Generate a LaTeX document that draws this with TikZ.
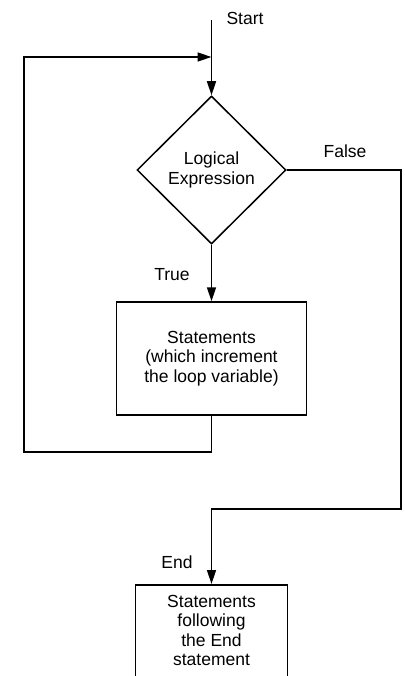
\documentclass[tikz,border=0pt]{standalone}
\usepackage{fontspec}
\setmainfont{Liberation Sans}
\usetikzlibrary{shapes.geometric,arrows.meta}
\tikzset{
  line/.style={line width=1.5pt},
  arr/.style={line, -{Triangle[length=14pt,width=9pt]}},
  txt/.style={font=\fontsize{17.5}{19.5}\selectfont, align=center, inner sep=0pt},
  decision/.style={diamond, draw, line, aspect=1, minimum width=149pt, minimum height=148pt, inner sep=0pt, txt},
  process/.style={rectangle, draw, line, inner sep=0pt, txt},
  lbl/.style={txt}
}
\begin{document}
\begin{tikzpicture}[x=1pt,y=-1pt]
  \useasboundingbox (0,0) rectangle (404,676);
  \clip (0,0) rectangle (404,676);

  % decision and statement blocks
  \node[decision] (dec) at (211.5,170) {Logical\\Expression};
  \node[process, minimum width=190pt, minimum height=113pt] (body) at (211.5,358.5)
    {Statements\\(which increment\\the loop variable)};
  \node[process, minimum width=152pt, minimum height=140pt, anchor=north] (after) at (211.5,584)
    {\\[-19.5pt]Statements\\following\\the End\\statement\\[17pt]\mbox{}};

  % branch labels
  \node[lbl] (lstart) at (245,18) {Start};
  \node[lbl] (lfalse) at (345,151) {False};
  \node[lbl] (ltrue) at (172,275) {True};
  \node[lbl] (lend) at (177,562) {End};

  % routing points
  \coordinate (start) at (211.5,20);
  \coordinate (join) at (211.5,57);
  \coordinate (loopL) at (24,452);
  \coordinate (fr) at (401,509);

  % connectors
  \draw[arr] (start) -- (dec.north);
  \draw[arr] (dec.south) -- (body.north);
  \draw[arr] (body.south) -- (body.south |- loopL) -- (loopL) -- (loopL |- join) -- (join);
  \draw[arr] (dec.east) -| (fr) -| (after.north);
\end{tikzpicture}
\end{document}
